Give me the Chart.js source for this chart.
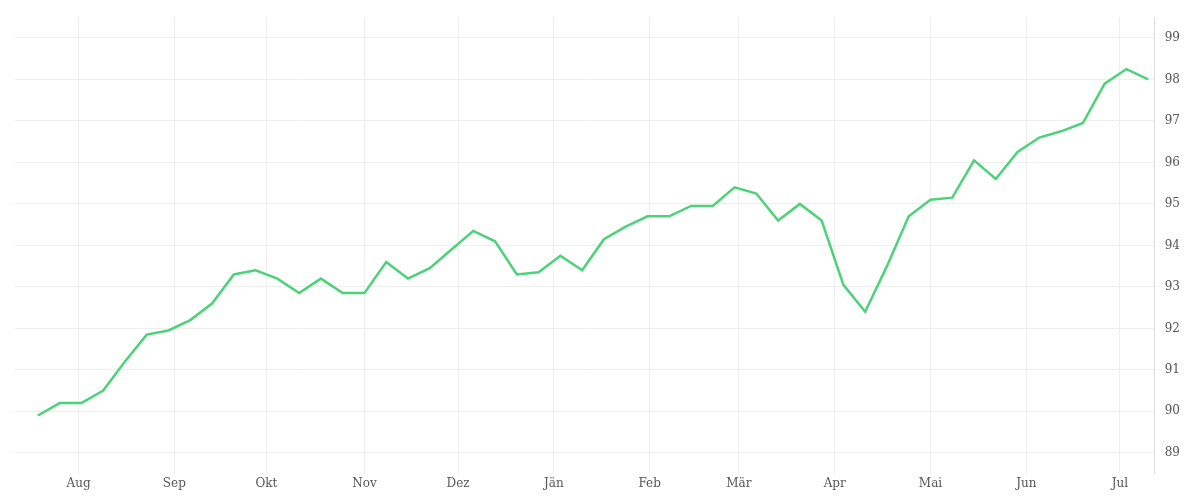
<!DOCTYPE html>
<html>
<head>
<meta charset="utf-8">
<script src="https://cdn.jsdelivr.net/npm/chart.js@4"></script>
<style>
  body { margin: 0; background: #fff; }
</style>
</head>
<body>
<canvas id="myChart" width="1200" height="500"></canvas>
<script>
// weekly values, index 0 = first week
let values = [89.9, 90.2, 90.2, 90.5, 91.2, 91.85, 91.95, 92.2, 92.6, 93.3, 93.4, 93.2, 92.85,
  93.2, 92.85, 92.85, 93.6, 93.2, 93.45, 93.9, 94.35, 94.1, 93.3, 93.35, 93.75, 93.4, 94.15,
  94.45, 94.7, 94.7, 94.95, 94.95, 95.4, 95.25, 94.6, 95.0, 94.6, 93.05, 92.4, 93.5, 94.7,
  95.1, 95.15, 96.05, 95.6, 96.25, 96.6, 96.75, 96.95, 97.9, 98.25, 98.0];
let monthLabels = ['Aug', 'Sep', 'Okt', 'Nov', 'Dez', 'Jän', 'Feb', 'Mär', 'Apr', 'Mai', 'Jun', 'Jul'];
let monthPos = [1.87, 6.27, 10.5, 15.0, 19.3, 23.7, 28.1, 32.2, 36.6, 41.0, 45.4, 49.7];
let yTicks = [89, 90, 91, 92, 93, 94, 95, 96, 97, 98, 99];

let points = values.map((v, i) => ({ x: i, y: v }));
let font = { family: 'DejaVu Serif', size: 12 };

let chart = new Chart(document.getElementById("myChart").getContext('2d'), {
  type: 'line',
  data: {
    datasets: [{
      data: points,
      borderColor: 'rgb(76, 210, 120)',
      borderWidth: 2.5,
      pointRadius: 0,
      tension: 0,
      fill: false
    }]
  },
  options: {
    responsive: false,
    animation: false,
    layout: { padding: { left: 15, right: 10, top: 10, bottom: 6 } },
    plugins: { legend: { display: false }, tooltip: { enabled: false } },
    scales: {
      x: {
        type: 'linear',
        min: -1.05,
        max: 51.3,
        afterBuildTicks: axis => { axis.ticks = monthPos.map(v => ({ value: v })); },
        ticks: {
          font: font, color: '#555', maxRotation: 0, autoSkip: false,
          callback: (v, i) => monthLabels[i]
        },
        grid: { color: '#eeeeee', drawTicks: false },
        border: { display: false }
      },
      y: {
        position: 'right',
        min: 88.5,
        max: 99.5,
        afterBuildTicks: axis => { axis.ticks = yTicks.map(v => ({ value: v })); },
        ticks: { font: font, color: '#555', padding: 10 },
        grid: { color: '#eeeeee', drawTicks: false },
        border: { display: true, color: '#dddddd' }
      }
    }
  }
});
</script>
</body>
</html>
